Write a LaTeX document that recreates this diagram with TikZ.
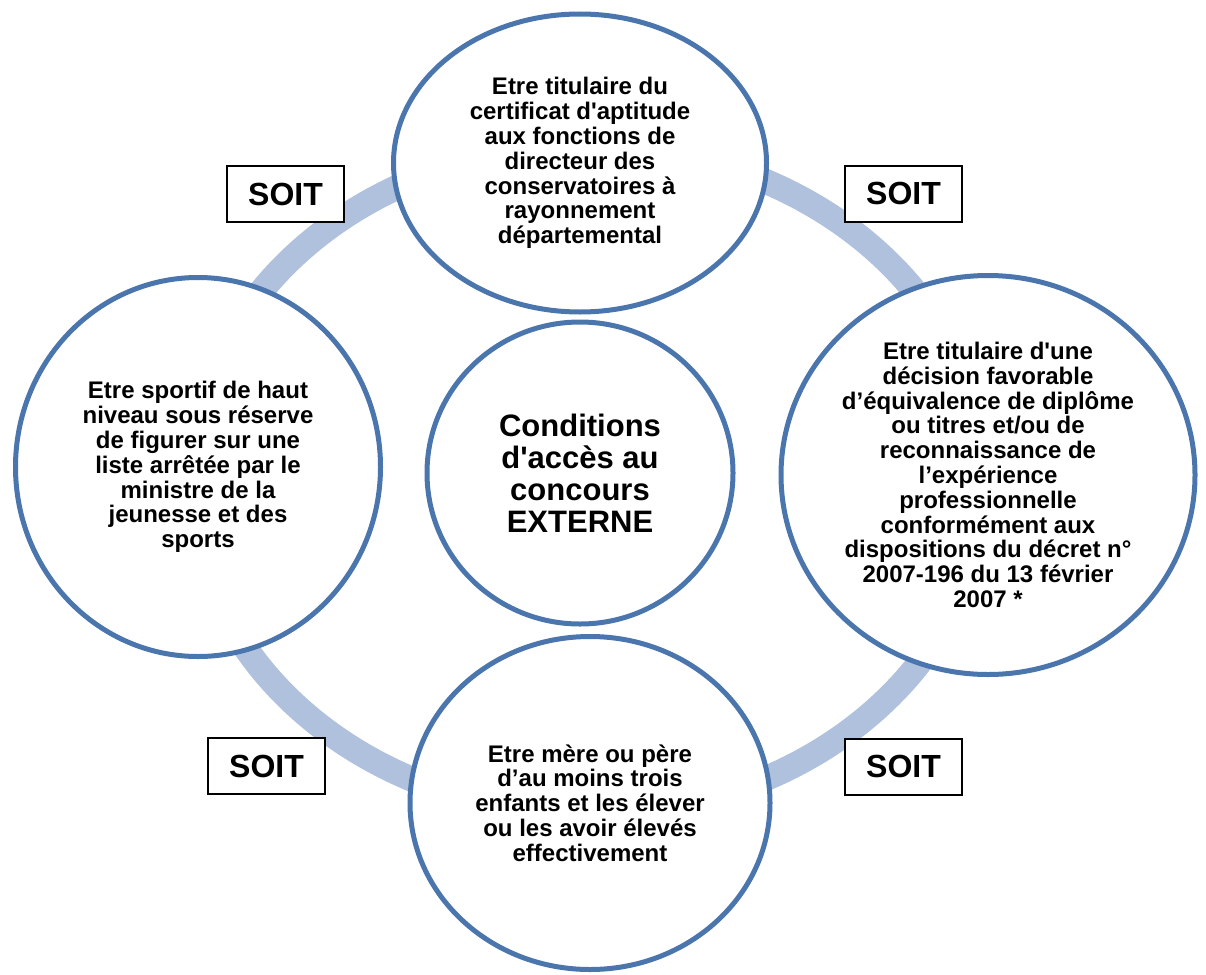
\documentclass[tikz,border=0pt]{standalone}
\usepackage{fontspec}
\setmainfont{Liberation Sans}[Ligatures=TeXOff]
\usetikzlibrary{shapes.geometric}
\definecolor{ringblue}{RGB}{176,193,221}
\definecolor{rimblue}{RGB}{74,118,173}

\begin{document}
\begin{tikzpicture}[x=1pt,y=-1pt,
  bubble/.style={ellipse,draw=rimblue,line width=5pt,fill=white,inner sep=0pt,align=center,
    font=\fontsize{24}{24.8}\selectfont\bfseries},
  soit/.style={rectangle,draw=black,line width=2pt,fill=white,minimum width=117pt,
    minimum height=56pt,inner sep=0pt,font=\fontsize{32}{34}\selectfont\bfseries}]
\useasboundingbox (0,0) rectangle (1206,974);

% Ring behind the bubbles
\draw[ringblue,line width=25pt] (588,480) ellipse [x radius=396, y radius=334];

% Bubbles
\node (cert) at (580,163) [bubble,minimum width=373pt,minimum height=298pt]
{Etre titulaire du\\certificat d'aptitude\\aux fonctions de\\directeur des\\conservatoires à\\rayonnement\\départemental};
\node (sport) at (198,467) [bubble,minimum width=365pt,minimum height=379pt]
{Etre sportif de haut\\niveau sous réserve\\de figurer sur une\\liste arrêtée par le\\ministre de la\\jeunesse et des\\sports};
\node (equiv) at (988,475) [bubble,minimum width=414pt,minimum height=399pt]
{Etre titulaire d'une\\décision favorable\\d’équivalence de diplôme\\ou titres et/ou de\\reconnaissance de\\l’expérience\\professionnelle\\conformément aux\\dispositions du décret n°\\2007-196 du 13 février\\2007 *};
\node (parent) at (590,803) [bubble,minimum width=360pt,minimum height=333pt]
{Etre mère ou père\\d’au moins trois\\enfants et les élever\\ou les avoir élevés\\effectivement};
\node (cond) at (580,473) [bubble,minimum width=306pt,minimum height=302pt,
  font=\fontsize{31}{32}\selectfont\bfseries]
{Conditions\\d'accès au\\concours\\EXTERNE};

% SOIT labels
\node (soitnw) at (285.5,194) [soit] {SOIT};
\node (soitne) at (903.5,193.5) [soit] {SOIT};
\node (soitsw) at (266.5,766) [soit] {SOIT};
\node (soitse) at (903.5,766.5) [soit] {SOIT};

\end{tikzpicture}
\end{document}
